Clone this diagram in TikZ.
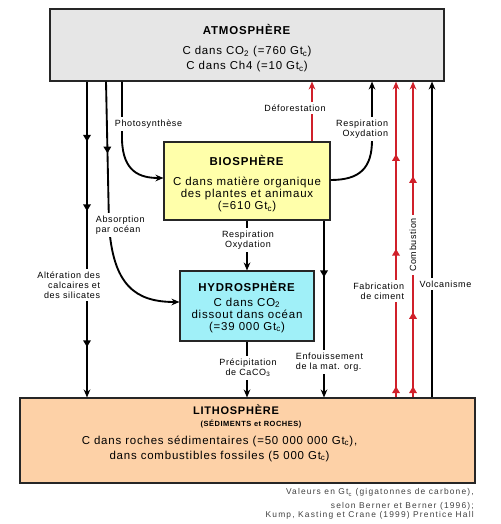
\documentclass[tikz,border=0pt]{standalone}
\usepackage{fontspec}
\setmainfont{Liberation Sans}[LetterSpace=7]
\usetikzlibrary{arrows.meta,shapes.geometric}

\definecolor{atmofill}{HTML}{E6E6E6}
\definecolor{biofill}{HTML}{FFFFAA}
\definecolor{hydrofill}{HTML}{A0F0F8}
\definecolor{lithofill}{HTML}{FDD1A7}
\definecolor{fluxred}{HTML}{D0202A}

\tikzset{
  sphere/.style={draw=black!85, line width=0.8pt, inner sep=0pt},
  boxtext/.style={align=center, inner sep=0pt, font=\fontsize{8.6pt}{11.25pt}\selectfont},
  flow/.style={line width=1.4pt, ->},
  redflow/.style={flow, color=fluxred},
  tipmark/.style={pos=#1, sloped, allow upside down, anchor=apex, isosceles triangle, isosceles triangle stretches, fill, inner sep=0pt, outer sep=0pt, minimum width=6pt, minimum height=5pt},
  lab/.style={fill=white, inner sep=2pt, font=\fontsize{6.75pt}{7.5pt}\selectfont},
}

\begin{document}
\begin{tikzpicture}[x=0.75pt,y=-0.75pt,>={Stealth[length=6pt,width=5pt]}]
  \useasboundingbox (0,0) rectangle (500,524);
  % reservoirs
  \node[sphere, fill=atmofill, minimum width=295.5pt, minimum height=54pt] (atmo) at (247,45) {};
  \node[sphere, fill=biofill, minimum width=124.5pt, minimum height=58.5pt] (bio) at (247,181) {};
  \node[sphere, fill=hydrofill, minimum width=100.5pt, minimum height=52.5pt] (hydro) at (247,306) {};
  \node[sphere, fill=lithofill, minimum width=341.25pt, minimum height=63.75pt] (litho) at (247.5,440.5) {};

  \node[boxtext] (atmotxt) at (247,48.5) {\textbf{ATMOSPHÈRE}\\[3.75pt] C dans CO\textsubscript{2} (=760 Gt\textsubscript{c})\\ C dans Ch4 (=10 Gt\textsubscript{c})};
  \node[boxtext, font=\fontsize{8.6pt}{9pt}\selectfont] (biotxt) at (247,184) {\textbf{BIOSPHÈRE}\\[6pt] C dans matière organique\\ des plantes et animaux\\ (=610 Gt\textsubscript{c})};
  \node[boxtext, font=\fontsize{8.6pt}{9pt}\selectfont] (hydrotxt) at (247,307) {\textbf{HYDROSPHÈRE}\\[2.25pt] C dans CO\textsubscript{2}\\ dissout dans océan\\ (=39 000 Gt\textsubscript{c})};
  \node[boxtext, font=\fontsize{8.25pt}{9pt}\selectfont\bfseries] (lithotitle) at (236,410) {LITHOSPHÈRE};
  \node[boxtext, font=\fontsize{5.6pt}{6pt}\selectfont\bfseries] (lithosub) at (251,424) {(SÉDIMENTS et ROCHES)};
  \node[boxtext] (lithotxt) at (219.5,449) {C dans roches sédimentaires (=50 000 000 Gt\textsubscript{c}),\\ dans combustibles fossiles (5 000 Gt\textsubscript{c})};

  % flux columns
  \coordinate (xalt) at (87,0);
  \coordinate (xabs) at (106,0);
  \coordinate (xpho) at (122,0);
  \coordinate (xdef) at (312,0);
  \coordinate (xenf) at (324,0);
  \coordinate (xres) at (372,0);
  \coordinate (xfab) at (396,0);
  \coordinate (xcom) at (413,0);
  \coordinate (xvol) at (432,0);

  % fluxes
  \draw[flow] (atmo.south -| xalt) -- node[tipmark=0.19]{} node[tipmark=0.41]{} node[tipmark=0.84]{} (litho.north -| xalt);
  \draw[flow] (atmo.south -| xabs) -- node[tipmark=0.5]{} (109,225) .. controls (113,285) and (135,302) .. ([yshift=3pt]hydro.west);
  \draw[flow] (atmo.south -| xpho) -- (122,140) .. controls (123,172) and (140,178) .. ([yshift=2.25pt]bio.west);
  \draw[flow] ([yshift=0.75pt]bio.east) .. controls (360,180) and (372,168) .. (372,140) -- (atmo.south -| xres);
  \draw[redflow] (bio.north -| xdef) -- (atmo.south -| xdef);
  \draw[flow] (bio.south) -- (hydro.north);
  \draw[flow] (bio.south -| xenf) -- node[tipmark=0.32]{} (litho.north -| xenf);
  \draw[flow] (hydro.south) -- (litho.north -| hydro.south);
  \draw[redflow] (litho.north -| xfab) -- node[tipmark=0.035]{} node[tipmark=0.47]{} node[tipmark=0.77]{} (atmo.south -| xfab);
  \draw[redflow] (litho.north -| xcom) -- node[tipmark=0.035]{} node[tipmark=0.27]{} node[tipmark=0.70]{} (atmo.south -| xcom);
  \draw[flow] (litho.north -| xvol) -- (atmo.south -| xvol);

  % flux labels
  \node[lab, anchor=east, align=right] (lalt) at (103,285) {Altération des\\calcaires et\\des silicates};
  \node[lab, anchor=west, align=left] (labs) at (93,225) {Absorption\\par océan};
  \node[lab, anchor=west] (lpho) at (112,124) {Photosynthèse};
  \node[lab, anchor=east, align=right] (lres) at (391,129) {Respiration\\Oxydation};
  \node[lab] (ldef) at (295,108) {Déforestation};
  \node[lab, align=center] (lresp) at (248,240) {Respiration\\Oxydation};
  \node[lab, anchor=west, align=left] (lenf) at (293,362) {Enfouissement\\de la mat. org.};
  \node[lab, align=center] (lpre) at (248,368) {Précipitation\\de CaCO\textsubscript{3}};
  \node[lab, anchor=east, align=right] (lfab) at (407,291) {Fabrication\\de ciment};
  \node[lab, rotate=90] (lcom) at (413,245) {Combustion};
  \node[lab] (lvol) at (445.5,284) {Volcanisme};

  \node[anchor=east, align=right, inner sep=0pt, text=black!75, font=\fontsize{6.3pt}{6.9pt}\selectfont\addfontfeature{LetterSpace=14}] (source) at (474,504) {Valeurs en Gt\textsubscript{c} (gigatonnes de carbone),\\[3pt] selon Berner et Berner (1996);\\ Kump, Kasting et Crane (1999) Prentice Hall};
\end{tikzpicture}
\end{document}
